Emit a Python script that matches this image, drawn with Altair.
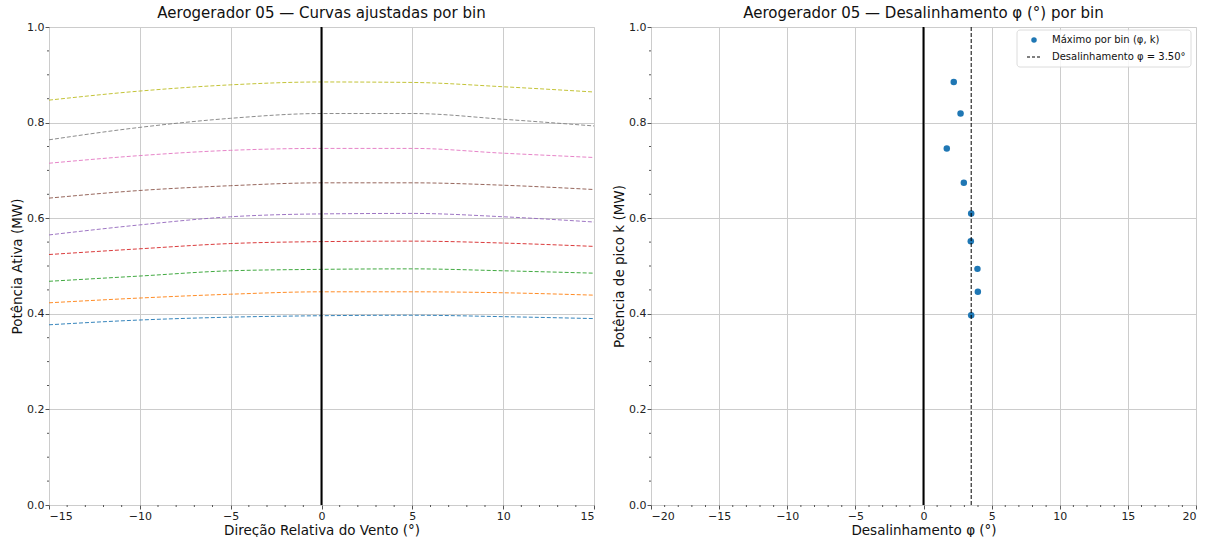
import altair as alt
import pandas as pd

# ---------------- data ----------------
x_vals = [-15, -10, -5, 0, 5, 10, 15]
curve_names = ["bin 1", "bin 2", "bin 3", "bin 4", "bin 5", "bin 6", "bin 7", "bin 8", "bin 9"]
curve_blue   = [0.377, 0.387, 0.393, 0.396, 0.397, 0.394, 0.390]
curve_orange = [0.423, 0.433, 0.441, 0.446, 0.446, 0.444, 0.439]
curve_green  = [0.468, 0.479, 0.490, 0.493, 0.494, 0.490, 0.485]
curve_red    = [0.524, 0.536, 0.547, 0.551, 0.552, 0.548, 0.541]
curve_purple = [0.565, 0.586, 0.603, 0.609, 0.610, 0.603, 0.592]
curve_brown  = [0.642, 0.658, 0.668, 0.674, 0.674, 0.669, 0.660]
curve_pink   = [0.715, 0.731, 0.742, 0.746, 0.746, 0.736, 0.727]
curve_gray   = [0.764, 0.790, 0.809, 0.819, 0.819, 0.807, 0.793]
curve_olive  = [0.847, 0.866, 0.879, 0.885, 0.884, 0.875, 0.864]
curves = [curve_blue, curve_orange, curve_green, curve_red, curve_purple,
          curve_brown, curve_pink, curve_gray, curve_olive]
tab10 = ["#1f77b4", "#ff7f0e", "#2ca02c", "#d62728", "#9467bd",
         "#8c564b", "#e377c2", "#7f7f7f", "#bcbd22"]

peak_phi = [3.50, 3.99, 3.96, 3.47, 3.50, 2.96, 1.71, 2.72, 2.22]
peak_k   = [0.397, 0.446, 0.494, 0.552, 0.610, 0.674, 0.746, 0.819, 0.885]
phi_line = 3.50

left_x_ticks = [-15, -10, -5, 0, 5, 10, 15]
right_x_ticks = [-20, -15, -10, -5, 0, 5, 10, 15, 20]
y_ticks = [0.0, 0.2, 0.4, 0.6, 0.8, 1.0]
left_minor_x = [v for v in range(-15, 16) if v % 5 != 0]
right_minor_x = [v for v in range(-20, 21) if v % 5 != 0]
minor_y = [0.05, 0.1, 0.15, 0.25, 0.3, 0.35, 0.45, 0.5, 0.55, 0.65, 0.7, 0.75, 0.85, 0.9, 0.95]

# ---------------- layout ----------------
W, H = 545, 478
FONT = "DejaVu Sans"
GRID = "#cccccc"
SPINE = "#555555"

rows = []
for name, vals in zip(curve_names, curves):
    for x, v in zip(x_vals, vals):
        rows.append({"x": x, "p": v, "bin": name})
curves_df = pd.DataFrame(rows)
peaks_df = pd.DataFrame({"phi": peak_phi, "k": peak_k})
one = pd.DataFrame({"a": [0]})


def axis_common(title, values, fmt):
    return alt.Axis(title=title, values=values, format=fmt, grid=True, gridColor=GRID,
                    gridWidth=1, domain=False, tickColor=SPINE, tickSize=4,
                    labelFontSize=11, labelColor="#222", titleFontSize=13.5,
                    titleFontWeight="normal", titleColor="#111", labelFont=FONT,
                    titleFont=FONT, labelPadding=1, titlePadding=2)


def minor_layers(xdom, minor_x):
    mx = alt.Chart(pd.DataFrame({"m": minor_x})).mark_rule(color=SPINE, strokeWidth=1).encode(
        x=alt.X("m:Q", scale=alt.Scale(domain=xdom)),
        y=alt.value(H), y2=alt.value(H + 2))
    my = alt.Chart(pd.DataFrame({"m": minor_y})).mark_rule(color=SPINE, strokeWidth=1).encode(
        y=alt.Y("m:Q", scale=alt.Scale(domain=[0, 1])),
        x=alt.value(0), x2=alt.value(-2))
    return mx, my


# ---------------- left panel ----------------
left_lines = alt.Chart(curves_df).mark_line(strokeDash=[4, 2], strokeWidth=1, interpolate="monotone",
                                            opacity=0.9).encode(
    x=alt.X("x:Q", scale=alt.Scale(domain=[-15, 15], nice=False),
            axis=axis_common("Direção Relativa do Vento (°)", left_x_ticks, "d")),
    y=alt.Y("p:Q", scale=alt.Scale(domain=[0, 1], nice=False),
            axis=axis_common("Potência Ativa (MW)", y_ticks, ".1f")),
    color=alt.Color("bin:N", scale=alt.Scale(domain=curve_names, range=tab10), legend=None),
    detail="bin:N",
)
left_zero = alt.Chart(pd.DataFrame({"z": [0]})).mark_rule(color="black", strokeWidth=2).encode(
    x=alt.X("z:Q", scale=alt.Scale(domain=[-15, 15])))
lmx, lmy = minor_layers([-15, 15], left_minor_x)

left = alt.layer(left_lines, left_zero, lmx, lmy).properties(
    width=W, height=H,
    title=alt.TitleParams("Aerogerador 05 — Curvas ajustadas por bin", fontSize=15,
                          fontWeight="normal", font=FONT, color="#111", offset=0))

# ---------------- right panel ----------------
pts = alt.Chart(peaks_df).mark_circle(size=42, color="#1f77b4", opacity=1).encode(
    x=alt.X("phi:Q", scale=alt.Scale(domain=[-20, 20], nice=False),
            axis=axis_common("Desalinhamento φ (°)", right_x_ticks, "d")),
    y=alt.Y("k:Q", scale=alt.Scale(domain=[0, 1], nice=False),
            axis=axis_common("Potência de pico k (MW)", y_ticks, ".1f")),
)
right_zero = alt.Chart(pd.DataFrame({"z": [0]})).mark_rule(color="black", strokeWidth=2).encode(
    x=alt.X("z:Q", scale=alt.Scale(domain=[-20, 20])))
right_phi = alt.Chart(pd.DataFrame({"z": [phi_line]})).mark_rule(
    color="black", strokeWidth=1, strokeDash=[4, 2]).encode(
    x=alt.X("z:Q", scale=alt.Scale(domain=[-20, 20])))
rmx, rmy = minor_layers([-20, 20], right_minor_x)

# manual legend (matplotlib style, upper right)
leg_box = alt.Chart(one).mark_rect(fill="white", stroke="#d8d8d8", strokeWidth=1,
                                   cornerRadius=3, opacity=0.85).encode(
    x=alt.value(366), x2=alt.value(540), y=alt.value(3), y2=alt.value(40))
leg_dot = alt.Chart(one).mark_circle(size=30, color="#1f77b4", opacity=1).encode(
    x=alt.value(383), y=alt.value(13))
leg_dash = alt.Chart(one).mark_rule(color="black", strokeWidth=1, strokeDash=[3, 2]).encode(
    x=alt.value(376), x2=alt.value(391), y=alt.value(30))
leg_t1 = alt.Chart(one).mark_text(align="left", baseline="middle", fontSize=10, font=FONT,
                                  color="#111").encode(
    x=alt.value(401), y=alt.value(13), text=alt.value("Máximo por bin (φ, k)"))
leg_t2 = alt.Chart(one).mark_text(align="left", baseline="middle", fontSize=10, font=FONT,
                                  color="#111").encode(
    x=alt.value(401), y=alt.value(30), text=alt.value(f"Desalinhamento φ = {phi_line:.2f}°"))

right = alt.layer(pts, right_zero, right_phi, rmx, rmy,
                  leg_box, leg_dot, leg_dash, leg_t1, leg_t2).properties(
    width=W, height=H,
    title=alt.TitleParams("Aerogerador 05 — Desalinhamento φ (°) por bin", fontSize=15,
                          fontWeight="normal", font=FONT, color="#111", offset=0))

chart = alt.hconcat(left, right, spacing=15).properties(
    padding={"left": 10, "top": 5, "right": 5, "bottom": 0}
).configure_view(stroke=SPINE, strokeWidth=1).configure(font=FONT)

chart.save("out.html", embed_options={"renderer": "svg", "actions": False})
